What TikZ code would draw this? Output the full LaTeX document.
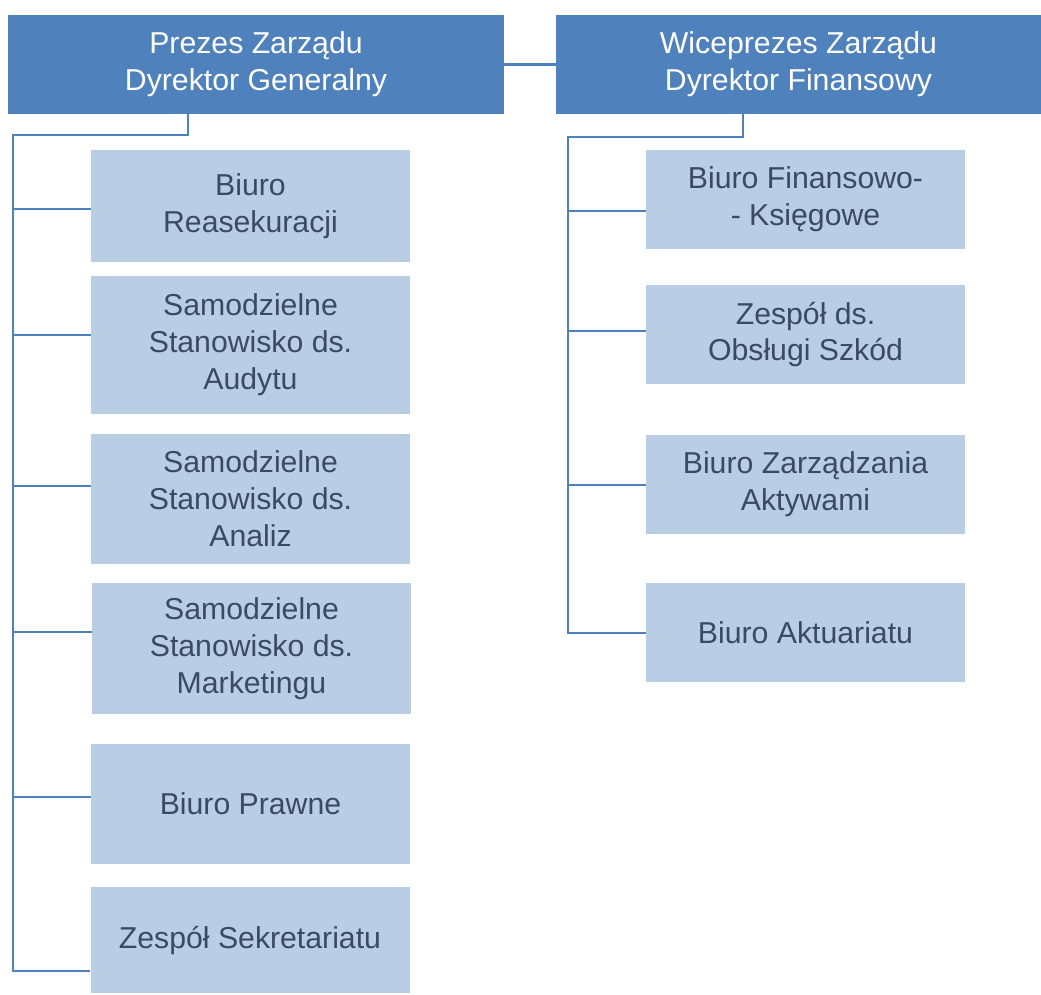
\documentclass[tikz,border=0pt]{standalone}
\usepackage{fontspec}
\setmainfont{Liberation Sans}
\definecolor{headblue}{HTML}{4F81BD}
\definecolor{unitblue}{HTML}{B9CDE5}
\definecolor{unittext}{HTML}{3B4A62}
\begin{document}
\begin{tikzpicture}[
  head/.style={fill=headblue, text=white, align=center, inner sep=0pt,
    minimum height=1.98cm, font=\fontsize{17.2}{21}\selectfont},
  unit/.style={fill=unitblue, text=unittext, align=center, inner sep=0pt,
    minimum width=6.38cm, font=\fontsize{17.2}{21}\selectfont},
  link/.style={headblue, line width=1.3pt}]
 \useasboundingbox (0,0) rectangle (20.82,-19.88);

 % board
 \node[head, minimum width=9.92cm] (prezes) at (5.12,-1.29) {Prezes Zarządu\\Dyrektor Generalny};
 \node[head, minimum width=9.70cm] (wice) at (15.97,-1.29) {Wiceprezes Zarządu\\Dyrektor Finansowy};
 \draw[link] (prezes.east) -- (wice.west);

 % units under the president
 \node[unit, minimum height=2.24cm] (reas) at (5.01,-4.12) {Biuro\\Reasekuracji};
 \node[unit, minimum height=2.76cm] (audyt) at (5.01,-6.90) {Samodzielne\\Stanowisko ds.\\Audytu};
 \node[unit, minimum height=2.60cm] (analiz) at (5.01,-9.98) {Samodzielne\\Stanowisko ds.\\Analiz};
 \node[unit, minimum height=2.62cm] (market) at (5.03,-12.97) {Samodzielne\\Stanowisko ds.\\Marketingu};
 \node[unit, minimum height=2.40cm] (prawne) at (5.01,-16.08) {Biuro Prawne};
 \node[unit, minimum height=2.12cm] (sekr) at (5.00,-18.80) {Zespół Sekretariatu};

 \coordinate (ltop) at (3.76,-2.70);
 \coordinate (lend) at (0.26,-19.42);
 \draw[link] (prezes.south -| ltop) -- (ltop) -- (ltop -| lend) -- (lend) -- (lend -| sekr.west);
 \coordinate (l1) at (0.26,-4.18);
 \coordinate (l2) at (0.26,-6.70);
 \coordinate (l3) at (0.26,-9.72);
 \coordinate (l4) at (0.26,-12.64);
 \coordinate (l5) at (0.26,-15.94);
 \draw[link] (l1) -- (l1 -| reas.west);
 \draw[link] (l2) -- (l2 -| audyt.west);
 \draw[link] (l3) -- (l3 -| analiz.west);
 \draw[link] (l4) -- (l4 -| market.west);
 \draw[link] (l5) -- (l5 -| prawne.west);

 % units under the vice president
 \node[unit, minimum height=1.98cm] (fin) at (16.11,-3.99) {Biuro Finansowo-\\- Księgowe};
 \node[unit, minimum height=1.98cm] (szkod) at (16.11,-6.69) {Zespół ds.\\Obsługi Szkód};
 \node[unit, minimum height=1.98cm] (aktyw) at (16.11,-9.69) {Biuro Zarządzania\\Aktywami};
 \node[unit, minimum height=1.98cm] (aktu) at (16.11,-12.65) {Biuro Aktuariatu};

 \coordinate (rtop) at (14.86,-2.74);
 \coordinate (rend) at (11.36,-12.66);
 \draw[link] (wice.south -| rtop) -- (rtop) -- (rtop -| rend) -- (rend) -- (rend -| aktu.west);
 \coordinate (r1) at (11.36,-4.22);
 \coordinate (r2) at (11.36,-6.62);
 \coordinate (r3) at (11.36,-9.70);
 \draw[link] (r1) -- (r1 -| fin.west);
 \draw[link] (r2) -- (r2 -| szkod.west);
 \draw[link] (r3) -- (r3 -| aktyw.west);
\end{tikzpicture}
\end{document}
